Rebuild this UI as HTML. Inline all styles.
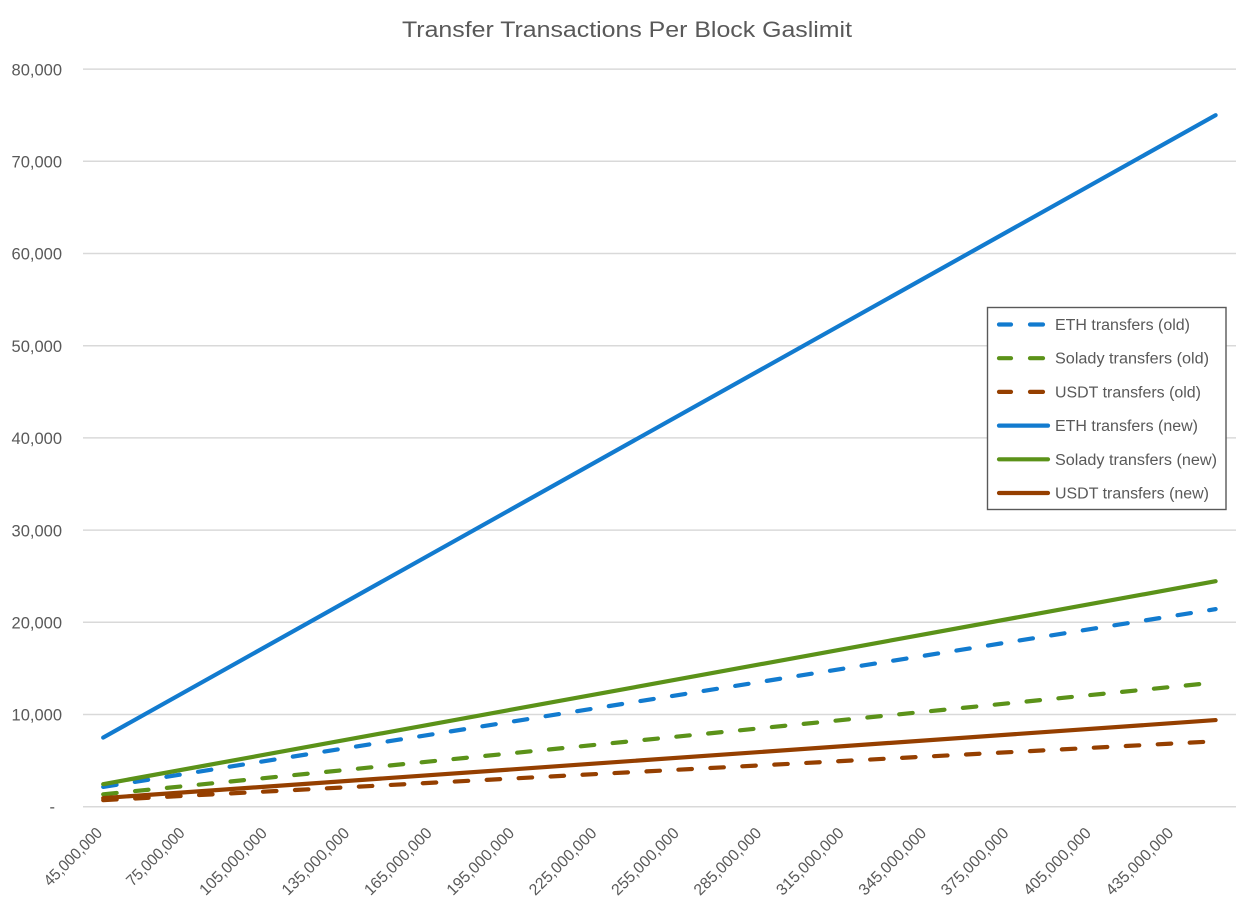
<!DOCTYPE html>
<html>
<head>
<meta charset="utf-8">
<style>
  html, body { margin: 0; padding: 0; background: #ffffff; }
  svg { display: block; }
  text { font-family: "Liberation Sans", "DejaVu Sans", sans-serif; fill: #595959; }
</style>
</head>
<body>
<svg width="1248" height="910" viewBox="0 0 1248 910" xmlns="http://www.w3.org/2000/svg">
  <rect x="0" y="0" width="1248" height="910" fill="#ffffff"/>

  <!-- Title -->
  <text x="627" y="37" font-size="22" text-anchor="middle" textLength="450" lengthAdjust="spacingAndGlyphs">Transfer Transactions Per Block Gaslimit</text>

  <!-- Gridlines -->
  <g stroke="#d9d9d9" stroke-width="1.5">
    <line x1="83" y1="69.1" x2="1236" y2="69.1"/>
    <line x1="83" y1="161.3" x2="1236" y2="161.3"/>
    <line x1="83" y1="253.5" x2="1236" y2="253.5"/>
    <line x1="83" y1="345.7" x2="1236" y2="345.7"/>
    <line x1="83" y1="437.9" x2="1236" y2="437.9"/>
    <line x1="83" y1="530.1" x2="1236" y2="530.1"/>
    <line x1="83" y1="622.3" x2="1236" y2="622.3"/>
    <line x1="83" y1="714.5" x2="1236" y2="714.5"/>
    <line x1="83" y1="806.7" x2="1236" y2="806.7"/>
  </g>

  <!-- Y labels -->
  <g font-size="16.5" text-anchor="end">
    <text x="62" y="75.3">80,000</text>
    <text x="62" y="167.5">70,000</text>
    <text x="62" y="259.7">60,000</text>
    <text x="62" y="351.9">50,000</text>
    <text x="62" y="444.1">40,000</text>
    <text x="62" y="536.3">30,000</text>
    <text x="62" y="628.5">20,000</text>
    <text x="62" y="720.7">10,000</text>
    <text x="55" y="812.5">-</text>
  </g>

  <!-- X labels -->
  <g font-size="16" text-anchor="end">
    <text transform="translate(103.2,834) rotate(-45)" textLength="75" lengthAdjust="spacingAndGlyphs">45,000,000</text>
    <text transform="translate(185.6,834) rotate(-45)" textLength="75" lengthAdjust="spacingAndGlyphs">75,000,000</text>
    <text transform="translate(268.0,834) rotate(-45)" textLength="88" lengthAdjust="spacingAndGlyphs">105,000,000</text>
    <text transform="translate(350.4,834) rotate(-45)" textLength="88" lengthAdjust="spacingAndGlyphs">135,000,000</text>
    <text transform="translate(432.8,834) rotate(-45)" textLength="88" lengthAdjust="spacingAndGlyphs">165,000,000</text>
    <text transform="translate(515.2,834) rotate(-45)" textLength="88" lengthAdjust="spacingAndGlyphs">195,000,000</text>
    <text transform="translate(597.6,834) rotate(-45)" textLength="88" lengthAdjust="spacingAndGlyphs">225,000,000</text>
    <text transform="translate(680.0,834) rotate(-45)" textLength="88" lengthAdjust="spacingAndGlyphs">255,000,000</text>
    <text transform="translate(762.4,834) rotate(-45)" textLength="88" lengthAdjust="spacingAndGlyphs">285,000,000</text>
    <text transform="translate(844.8,834) rotate(-45)" textLength="88" lengthAdjust="spacingAndGlyphs">315,000,000</text>
    <text transform="translate(927.2,834) rotate(-45)" textLength="88" lengthAdjust="spacingAndGlyphs">345,000,000</text>
    <text transform="translate(1009.6,834) rotate(-45)" textLength="88" lengthAdjust="spacingAndGlyphs">375,000,000</text>
    <text transform="translate(1092.0,834) rotate(-45)" textLength="88" lengthAdjust="spacingAndGlyphs">405,000,000</text>
    <text transform="translate(1174.4,834) rotate(-45)" textLength="88" lengthAdjust="spacingAndGlyphs">435,000,000</text>
  </g>

  <!-- Series: old (dashed) -->
  <g fill="none" stroke-width="4.2" stroke-linecap="round" stroke-dasharray="13.5 18.5">
    <line x1="103.2" y1="786.94" x2="1215.6" y2="609.13" stroke="#127bcf"/>
    <line x1="103.2" y1="794.28" x2="1215.6" y2="682.48" stroke="#5b9219"/>
    <line x1="103.2" y1="800.16" x2="1215.6" y2="741.26" stroke="#953f00"/>
  </g>
  <!-- Series: new (solid) -->
  <g fill="none" stroke-width="4.2" stroke-linecap="round">
    <line x1="103.2" y1="737.55" x2="1215.6" y2="115.2" stroke="#127bcf"/>
    <line x1="103.2" y1="784.15" x2="1215.6" y2="581.21" stroke="#5b9219"/>
    <line x1="103.2" y1="798.04" x2="1215.6" y2="720.08" stroke="#953f00"/>
  </g>

  <!-- Legend -->
  <rect x="987.5" y="307.5" width="238.5" height="202" fill="#ffffff" stroke="#595959" stroke-width="1.4"/>
  <g fill="none" stroke-width="4.2" stroke-linecap="round">
    <line x1="999" y1="324.5" x2="1011" y2="324.5" stroke="#127bcf"/>
    <line x1="1030" y1="324.5" x2="1043" y2="324.5" stroke="#127bcf"/>
    <line x1="999" y1="358.2" x2="1011" y2="358.2" stroke="#5b9219"/>
    <line x1="1030" y1="358.2" x2="1043" y2="358.2" stroke="#5b9219"/>
    <line x1="999" y1="391.9" x2="1011" y2="391.9" stroke="#953f00"/>
    <line x1="1030" y1="391.9" x2="1043" y2="391.9" stroke="#953f00"/>
    <line x1="999" y1="425.6" x2="1048" y2="425.6" stroke="#127bcf"/>
    <line x1="999" y1="459.3" x2="1048" y2="459.3" stroke="#5b9219"/>
    <line x1="999" y1="493" x2="1048" y2="493" stroke="#953f00"/>
  </g>
  <g font-size="15.5">
    <text x="1055" y="330" textLength="135" lengthAdjust="spacingAndGlyphs">ETH transfers (old)</text>
    <text x="1055" y="363.7" textLength="154" lengthAdjust="spacingAndGlyphs">Solady transfers (old)</text>
    <text x="1055" y="397.4" textLength="146" lengthAdjust="spacingAndGlyphs">USDT transfers (old)</text>
    <text x="1055" y="431.1" textLength="143" lengthAdjust="spacingAndGlyphs">ETH transfers (new)</text>
    <text x="1055" y="464.8" textLength="162" lengthAdjust="spacingAndGlyphs">Solady transfers (new)</text>
    <text x="1055" y="498.5" textLength="154" lengthAdjust="spacingAndGlyphs">USDT transfers (new)</text>
  </g>
</svg>
</body>
</html>
